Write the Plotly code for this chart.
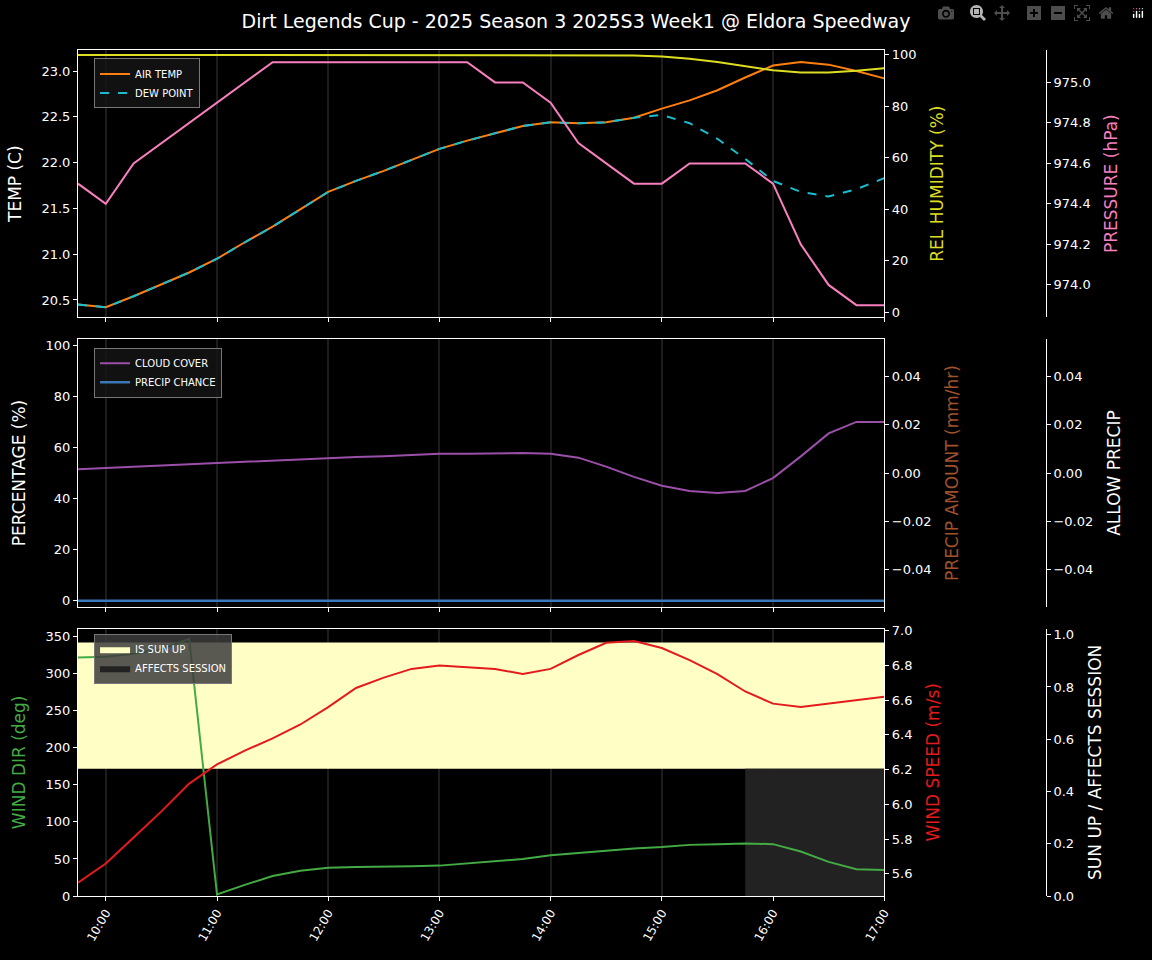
import plotly.graph_objects as go
import pandas as pd

times = pd.date_range("2025-01-01 09:45", "2025-01-01 17:00", freq="15min").strftime("%Y-%m-%d %H:%M").tolist()

air_temp = [20.45,20.42,20.54,20.67,20.8,20.95,21.13,21.3,21.49,21.68,21.8,21.91,22.03,22.15,22.24,22.32,22.4,22.44,22.43,22.44,22.49,22.59,22.68,22.79,22.93,23.06,23.1,23.07,23.0,22.92]
dew_point = [20.45,20.42,20.54,20.67,20.8,20.95,21.13,21.3,21.49,21.68,21.8,21.91,22.03,22.15,22.24,22.32,22.4,22.44,22.43,22.44,22.49,22.52,22.43,22.26,22.04,21.8,21.68,21.63,21.71,21.83]
humidity = [100]*20 + [99.8,99.4,98.5,97.2,95.6,94.0,93.2,93.2,93.8,94.8]
pressure = [974.5,974.4,974.6,974.7,974.8,974.9,975.0,975.1,975.1,975.1,975.1,975.1,975.1,975.1,975.1,975.0,975.0,974.9,974.7,974.6,974.5,974.5,974.6,974.6,974.6,974.5,974.2,974.0,973.9,973.9]
cloud_cover = [51.5,52,52.5,53,53.5,54,54.5,55,55.5,56,56.3,56.6,57,57.5,57.5,57.7,57.8,57.5,56,52.5,48.5,45,43,42.2,43,48,56.5,65.5,70,70]
precip_chance = [0]*30
precip_amount = [0]*30
allow_precip = [0]*30
wind_dir = [322,323,327,333,347,2,15,27,34,38,39,39,40,41,44,47,50,55,58,62,64,66,69,70,71,70,60,46,36,35]
wind_speed = [5.55,5.66,5.81,5.96,6.12,6.23,6.31,6.38,6.46,6.56,6.67,6.73,6.78,6.8,6.79,6.78,6.75,6.78,6.86,6.93,6.94,6.9,6.83,6.75,6.65,6.58,6.56,6.58,6.6,6.62]
sun_up = [1]*30
affects_session = [0]*24 + [1]*6

FONT = "DejaVu Sans"
fig = go.Figure()

# panel 1
fig.add_trace(go.Scatter(x=times, y=air_temp, name="AIR TEMP", line=dict(color="#ff7f0e", width=2), xaxis="x", yaxis="y", legend="legend"))
fig.add_trace(go.Scatter(x=times, y=dew_point, name="DEW POINT", line=dict(color="#17becf", width=2, dash="dash"), xaxis="x", yaxis="y", legend="legend"))
fig.add_trace(go.Scatter(x=times, y=humidity, showlegend=False, line=dict(color="#dddd22", width=2), xaxis="x", yaxis="y2"))
fig.add_trace(go.Scatter(x=times, y=pressure, showlegend=False, line=dict(color="#f77fbe", width=2), xaxis="x", yaxis="y3"))
# panel 2
fig.add_trace(go.Scatter(x=times, y=cloud_cover, name="CLOUD COVER", line=dict(color="#9a4fa8", width=2), xaxis="x2", yaxis="y4", legend="legend2"))
fig.add_trace(go.Scatter(x=times, y=precip_chance, name="PRECIP CHANCE", line=dict(color="#3a78b8", width=2.5), xaxis="x2", yaxis="y4", legend="legend2"))
fig.add_trace(go.Scatter(x=times, y=precip_amount, showlegend=False, line=dict(width=0), opacity=0, xaxis="x2", yaxis="y5"))
fig.add_trace(go.Scatter(x=times, y=allow_precip, showlegend=False, line=dict(width=0), opacity=0, xaxis="x2", yaxis="y6"))
# panel 3
fig.add_trace(go.Scatter(x=times, y=[v*171.6 for v in sun_up], showlegend=False, line=dict(width=0), hoverinfo="skip", xaxis="x3", yaxis="y7"))
fig.add_trace(go.Scatter(x=times, y=[v*342 for v in sun_up], name="IS SUN UP", fill="tonexty", fillcolor="#ffffc5", line=dict(width=0, color="#ffffc5"), mode="lines", xaxis="x3", yaxis="y7", legend="legend3"))
fig.add_trace(go.Scatter(x=times, y=[v*171.6 for v in affects_session], name="AFFECTS SESSION", fill="tozeroy", fillcolor="#222222", line=dict(width=0, color="#222222", shape="hv"), mode="lines", xaxis="x3", yaxis="y7", legend="legend3"))
fig.add_trace(go.Scatter(x=times, y=wind_dir, showlegend=False, line=dict(color="#44aa44", width=2), xaxis="x3", yaxis="y7"))
fig.add_trace(go.Scatter(x=times, y=wind_speed, showlegend=False, line=dict(color="#e41a1c", width=2), xaxis="x3", yaxis="y8"))
fig.add_trace(go.Scatter(x=times, y=[None]*30, showlegend=False, xaxis="x3", yaxis="y9"))

xr = ["2025-01-01 09:45", "2025-01-01 17:00"]
tickvals = [f"2025-01-01 {h}:00" for h in range(10, 18)]
ticktext = [f"{h}:00" for h in range(10, 18)]
XD = [0, 0.803]
POS3 = 0.964
base_x = dict(range=xr, domain=XD, tickvals=tickvals, showgrid=True, gridcolor="#1c1c1c", gridwidth=2,
              showline=True, linecolor="white", mirror=True, ticks="outside", tickcolor="white", ticklen=4,
              zeroline=False, color="white")
fig.update_layout(
    xaxis=dict(base_x, anchor="y", showticklabels=False),
    xaxis2=dict(base_x, anchor="y4", matches="x", showticklabels=False),
    xaxis3=dict(base_x, anchor="y7", matches="x", ticktext=ticktext, tickangle=-60, tickfont=dict(size=12)),
)
def yax(dom, rng, title, color, tv=None, **kw):
    d = dict(domain=dom, range=rng, title=dict(text=title, font=dict(size=17, color=color)),
             showgrid=False, zeroline=False, showline=True, linecolor="white", ticks="outside",
             tickcolor="white", ticklen=4, tickfont=dict(size=13, color="white"), color="white")
    if tv is not None:
        d["tickvals"] = tv
    d.update(kw)
    return d
D1, D2, D3 = [0.684, 1.0], [0.342, 0.658], [0, 0.316]
fig.update_layout(
    yaxis=yax(D1, [20.31, 23.23], "TEMP (C)", "white", [20.5,21,21.5,22,22.5,23], anchor="x", tickformat=".1f"),
    yaxis2=yax(D1, [-1.9, 101.9], "REL HUMIDITY (%)", "#dddd22", [0,20,40,60,80,100], anchor="x", overlaying="y", side="right"),
    yaxis3=yax(D1, [973.84, 975.16], "PRESSURE (hPa)", "#f77fbe", [974.0,974.2,974.4,974.6,974.8,975.0], anchor="free", position=POS3, overlaying="y", side="right", tickformat=".1f"),
    yaxis4=yax(D2, [-2.3, 102.3], "PERCENTAGE (%)", "white", [0,20,40,60,80,100], anchor="x2"),
    yaxis5=yax(D2, [-0.0553, 0.0553], "PRECIP AMOUNT (mm/hr)", "#a0522d", [-0.04,-0.02,0,0.02,0.04], anchor="x2", overlaying="y4", side="right", tickformat=".2f"),
    yaxis6=yax(D2, [-0.0553, 0.0553], "ALLOW PRECIP", "white", [-0.04,-0.02,0,0.02,0.04], anchor="free", position=POS3, overlaying="y4", side="right", tickformat=".2f"),
    yaxis7=yax(D3, [0, 360.8], "WIND DIR (deg)", "#44aa44", [0,50,100,150,200,250,300,350], anchor="x3"),
    yaxis8=yax(D3, [5.473, 7.0115], "WIND SPEED (m/s)", "#e41a1c", [5.6,5.8,6.0,6.2,6.4,6.6,6.8,7.0], anchor="x3", overlaying="y7", side="right", tickformat=".1f"),
    yaxis9=yax(D3, [0, 1.023], "SUN UP / AFFECTS SESSION", "white", [0,0.2,0.4,0.6,0.8,1.0], anchor="free", position=POS3, overlaying="y7", side="right", tickformat=".1f"),
)
leg = dict(x=0.016, xanchor="left", yanchor="top", bgcolor="rgba(20,20,20,0.85)", bordercolor="#777", borderwidth=1,
           font=dict(size=10, color="white", family=FONT), traceorder="normal", tracegroupgap=0)
fig.update_layout(
    legend=dict(leg, y=0.99),
    legend2=dict(leg, y=0.648),
    legend3=dict(leg, y=0.31, bgcolor="rgba(60,60,60,0.85)"),
    title=dict(text="Dirt Legends Cup - 2025 Season 3 2025S3 Week1 @ Eldora Speedway", x=0.5, xanchor="center", y=0.985, font=dict(size=19, color="white")),
    paper_bgcolor="black", plot_bgcolor="black",
    font=dict(family=FONT, color="white"),
    width=1152, height=960, margin=dict(l=78, r=70, t=50, b=64),
)
fig.write_html("out.html")
with open("out.html", encoding="utf-8") as f:
    html = f.read()
html = html.replace("<head>", "<head><style>html,body{margin:0;padding:0;background:black;}</style>", 1)
with open("out.html", "w", encoding="utf-8") as f:
    f.write(html)
